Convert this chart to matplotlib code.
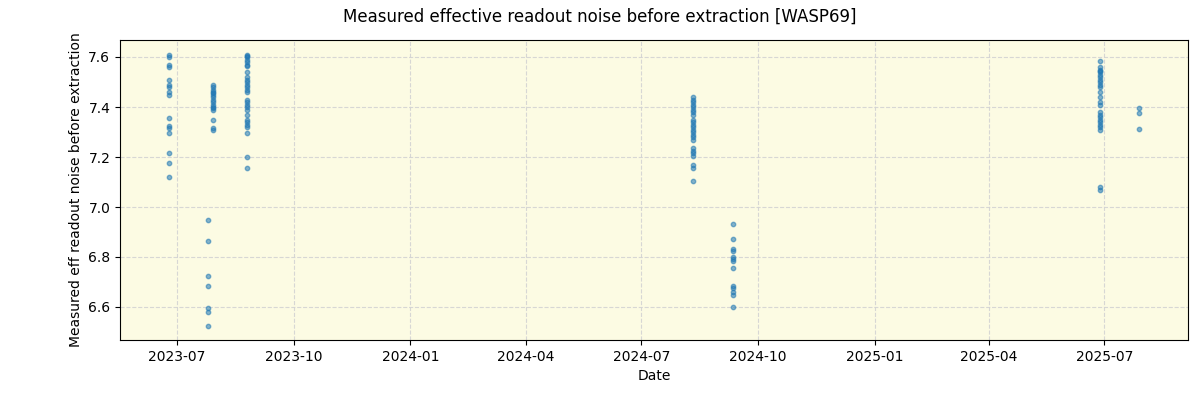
import matplotlib
matplotlib.use("Agg")
import matplotlib.pyplot as plt
import matplotlib.dates as mdates
import numpy as np
import pandas as pd

dates_c1 = "2023-06-25"
vals_c1 = [7.61, 7.60, 7.57, 7.56, 7.51, 7.49, 7.48, 7.46, 7.45, 7.355, 7.325, 7.315, 7.295, 7.215, 7.175, 7.12]
dates_c2a = "2023-07-25"
vals_c2a = [6.95, 6.863, 6.723, 6.683, 6.596, 6.579, 6.524]
dates_c2b = "2023-07-29"
vals_c2b = [7.49, 7.48, 7.47, 7.46, 7.455, 7.45, 7.44, 7.43, 7.42, 7.41, 7.40, 7.395, 7.39, 7.35, 7.315, 7.31]
dates_c3 = "2023-08-25"
vals_c3 = [7.61, 7.605, 7.60, 7.59, 7.58, 7.57, 7.565, 7.54, 7.52, 7.51, 7.50, 7.49, 7.48, 7.47,
           7.46, 7.43, 7.42, 7.41, 7.40, 7.39, 7.37, 7.35, 7.34, 7.33, 7.32, 7.295, 7.20, 7.155]
dates_c4 = "2024-08-11"
vals_c4 = [7.44, 7.43, 7.42, 7.41, 7.40, 7.39, 7.38, 7.37, 7.35, 7.34, 7.33, 7.32, 7.31, 7.30,
           7.29, 7.28, 7.27, 7.235, 7.225, 7.215, 7.205, 7.17, 7.155, 7.105]
dates_c5 = "2024-09-11"
vals_c5 = [6.932, 6.871, 6.831, 6.825, 6.801, 6.792, 6.785, 6.755, 6.685, 6.675, 6.661, 6.647, 6.599]
dates_c6 = "2025-06-28"
vals_c6 = [7.585, 7.56, 7.55, 7.545, 7.54, 7.53, 7.52, 7.51, 7.50, 7.49, 7.48, 7.46, 7.44, 7.42,
           7.41, 7.38, 7.37, 7.36, 7.35, 7.34, 7.33, 7.32, 7.31, 7.08, 7.07]
dates_c7 = "2025-07-28"
vals_c7 = [7.395, 7.375, 7.311]

groups = [(dates_c1, vals_c1), (dates_c2a, vals_c2a), (dates_c2b, vals_c2b), (dates_c3, vals_c3),
          (dates_c4, vals_c4), (dates_c5, vals_c5), (dates_c6, vals_c6), (dates_c7, vals_c7)]

x = []
y = []
for d, vs in groups:
    x += [pd.Timestamp(d)] * len(vs)
    y += vs

fig, ax = plt.subplots(figsize=(12, 4), dpi=100)
fig.subplots_adjust(left=0.1, right=0.99, top=0.9, bottom=0.15)
ax.set_facecolor("#fcfbe3")
ax.scatter(x, y, s=10, color="tab:blue", alpha=0.55, zorder=3)
ax.grid(True, linestyle="--", color="lightgray", alpha=0.9)
ax.set_xlim(pd.Timestamp("2023-05-17"), pd.Timestamp("2025-09-05"))
ax.set_ylim(6.468, 7.668)
ax.xaxis.set_major_locator(mdates.MonthLocator(bymonth=[1, 4, 7, 10]))
ax.xaxis.set_major_formatter(mdates.DateFormatter("%Y-%m"))
ax.set_xlabel("Date")
ax.set_ylabel("Measured eff readout noise before extraction")
fig.suptitle("Measured effective readout noise before extraction [WASP69]")
fig.savefig("out.png")
